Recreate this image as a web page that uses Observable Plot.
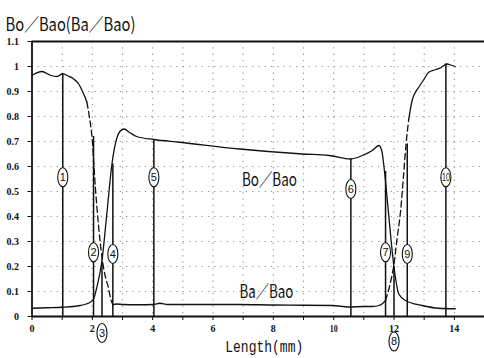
<!DOCTYPE html>
<html><head><meta charset="utf-8">
<script src="https://cdn.jsdelivr.net/npm/d3@7"></script>
<script src="https://cdn.jsdelivr.net/npm/@observablehq/plot@0.6"></script>
<style>body{margin:0;background:#fff}</style>
</head><body><div id="chart"></div>
<script>
const title = "Bo／Bao(Ba／Bao)";
const xLabel = "Length(mm)";
const xTicks = [0,1,2,3,4,5,6,7,8,9,10,11,12,13,14];
const yTicks = [0,0.1,0.2,0.3,0.4,0.5,0.6,0.7,0.8,0.9,1,1.1];
const gridX = [1,2,3,4,5,6,7,8,9,10,11,12,13,14];
const gridY = [0.1,0.2,0.3,0.4,0.5,0.6,0.7,0.8,0.9,1.0];

// Series A (starts high at left): solid, dashed fall, low middle, dashed rise, solid high right
const aLeftX = [0, 0.33, 0.61, 0.83, 1.02, 1.2, 1.38, 1.55, 1.66, 1.75, 1.82];
const aLeftY = [0.965, 0.98, 0.965, 0.96, 0.971, 0.962, 0.95, 0.93, 0.904, 0.88, 0.857];
const aFallX = [1.82, 1.9, 1.99, 2.1, 2.2, 2.32, 2.43, 2.53, 2.6, 2.68];
const aFallY = [0.857, 0.8, 0.717, 0.517, 0.37, 0.237, 0.16, 0.117, 0.075, 0.047];
const aMidX = [2.68, 2.8, 3.03, 3.5, 4.02, 4.24, 4.5, 5.56, 6.88, 8, 9, 9.96, 10.5, 11.0, 11.28, 11.5, 11.6, 11.72];
const aMidY = [0.047, 0.05, 0.048, 0.047, 0.048, 0.053, 0.048, 0.048, 0.048, 0.046, 0.045, 0.044, 0.038, 0.04, 0.04, 0.044, 0.05, 0.064];
const aRiseX = [11.72, 11.85, 12.0, 12.1, 12.22, 12.32, 12.4, 12.49];
const aRiseY = [0.064, 0.12, 0.21, 0.31, 0.424, 0.57, 0.69, 0.79];
const aRightX = [12.49, 12.6, 12.7, 12.82, 13.0, 13.15, 13.37, 13.55, 13.76, 13.9, 14.03];
const aRightY = [0.79, 0.864, 0.895, 0.917, 0.95, 0.977, 0.987, 0.995, 1.01, 1.005, 1.0];

// Series B (starts low at left), solid throughout
const bX = [0, 0.5, 1.0, 1.6, 1.8, 1.93, 2.04, 2.15, 2.32, 2.48, 2.65, 2.79, 2.92, 3.05, 3.25, 3.47, 4.04, 4.9, 6.88, 8.97, 9.85, 10.57, 10.95, 11.28, 11.5, 11.6, 11.67, 11.81, 12.0, 12.16, 12.38, 12.93, 13.48, 14.03];
const bY = [0.033, 0.035, 0.037, 0.044, 0.05, 0.057, 0.07, 0.117, 0.224, 0.41, 0.61, 0.704, 0.741, 0.75, 0.735, 0.72, 0.708, 0.697, 0.67, 0.65, 0.644, 0.63, 0.644, 0.664, 0.684, 0.66, 0.597, 0.424, 0.197, 0.09, 0.064, 0.044, 0.033, 0.031];

// Numbered measuring positions
const markerNames = ["1","2","3","4","5","6","7","8","9","10"];
const markerX = [1.02, 2.04, 2.32, 2.68, 4.04, 10.57, 11.72, 12.0, 12.44, 13.72];
const markerTop = [0.97, 0.72, 0.22, 0.61, 0.708, 0.63, 0.58, 0.2, 0.69, 1.01];
const markerLabelY = [0.557, 0.257, -0.066, 0.25, 0.557, 0.51, 0.257, -0.1, 0.25, 0.557];

// Curve labels
const curveLabels = ["Bo／Bao", "Ba／Bao"];
const curveLabelX = [7.87, 7.77];
const curveLabelY = [0.524, 0.076];

const pts = (xs, ys) => xs.map((x, i) => ({x, y: ys[i]}));
const markers = markerNames.map((n, i) => ({n, x: markerX[i], top: markerTop[i], ly: markerLabelY[i]}));
const labels = curveLabels.map((t, i) => ({t, x: curveLabelX[i], y: curveLabelY[i]}));

const ellipse = {
  draw(ctx, size) {
    const ry = Math.sqrt(size / Math.PI), rx = ry * 0.53, k = 0.5523;
    ctx.moveTo(0, -ry);
    ctx.bezierCurveTo(k * rx, -ry, rx, -k * ry, rx, 0);
    ctx.bezierCurveTo(rx, k * ry, k * rx, ry, 0, ry);
    ctx.bezierCurveTo(-k * rx, ry, -rx, k * ry, -rx, 0);
    ctx.bezierCurveTo(-rx, -k * ry, -k * rx, -ry, 0, -ry);
    ctx.closePath();
  }
};

const lineOpts = {x: "x", y: "y", stroke: "#111", strokeWidth: 1.3, curve: "monotone-x"};
const dashOpts = {...lineOpts, strokeDasharray: "6,3.5"};
const gridStyle = {stroke: "#999", strokeWidth: 1.1, strokeDasharray: "1.3,5"};

const chart = Plot.plot({
  width: 484,
  height: 358,
  marginLeft: 31.5,
  marginRight: 0,
  marginTop: 41,
  marginBottom: 42,
  style: {fontFamily: "Liberation Serif", fontSize: "10px", fontWeight: "bold", color: "#111", background: "#fff"},
  x: {domain: [0, 15], ticks: xTicks, tickFormat: d => (d % 2 === 0 ? String(d) : ""), tickSize: 4, tickPadding: 4, label: null},
  y: {domain: [0, 1.1], ticks: yTicks, tickFormat: d => String(+d.toFixed(1)), tickSize: 4, tickPadding: 9, label: null},
  marks: [
    Plot.ruleX(gridX, gridStyle),
    Plot.ruleY(gridY, gridStyle),
    Plot.line(pts(aLeftX, aLeftY), lineOpts),
    Plot.line(pts(aFallX, aFallY), dashOpts),
    Plot.line(pts(aMidX, aMidY), lineOpts),
    Plot.line(pts(aRiseX, aRiseY), dashOpts),
    Plot.line(pts(aRightX, aRightY), lineOpts),
    Plot.line(pts(bX, bY), lineOpts),
    Plot.ruleX(markers, {x: "x", y1: 0, y2: "top", stroke: "#111", strokeWidth: 1.5}),
    Plot.dot(markers, {x: "x", y: "ly", r: 9.5, symbol: ellipse, fill: "white", stroke: "#111", strokeWidth: 1.1}),
    Plot.text(markers, {x: "x", y: "ly", text: "n", fontFamily: "Liberation Sans", fontWeight: "normal", fontSize: 11, fill: "#111"}),
    Plot.ruleY([0], {stroke: "#111", strokeWidth: 1.8}),
    Plot.ruleY([1.1], {stroke: "#111", strokeWidth: 1.8}),
    Plot.ruleX([0], {stroke: "#111", strokeWidth: 1.8}),
    Plot.text(labels, {x: "x", y: "y", text: "t", lineAnchor: "bottom", fontFamily: "Noto Sans CJK JP", fontWeight: "normal", fontSize: 18, fill: "#111"}),
    Plot.text([title], {frameAnchor: "top-left", text: d => d, dx: -26.5, dy: -11, textAnchor: "start", lineAnchor: "bottom", fontFamily: "Noto Sans CJK JP", fontWeight: "normal", fontSize: 18, fill: "#111"}),
    Plot.text([xLabel], {frameAnchor: "bottom", text: d => d, dx: 6, dy: 35, lineAnchor: "bottom", fontFamily: "Liberation Mono", fontWeight: "normal", fontSize: 17, fill: "#111"})
  ]
});
document.getElementById("chart").appendChild(chart);

// squeeze condensed fonts like the printed original
const fitWidths = {"Bo／Bao(Ba／Bao)": 130, "Length(mm)": 78, "Bo／Bao": 55, "Ba／Bao": 54, "10": 8};
d3.select(chart).selectAll("text").each(function () {
  const w = fitWidths[this.textContent];
  if (w) d3.select(this).attr("textLength", w).attr("lengthAdjust", "spacingAndGlyphs");
});
</script>
</body></html>
